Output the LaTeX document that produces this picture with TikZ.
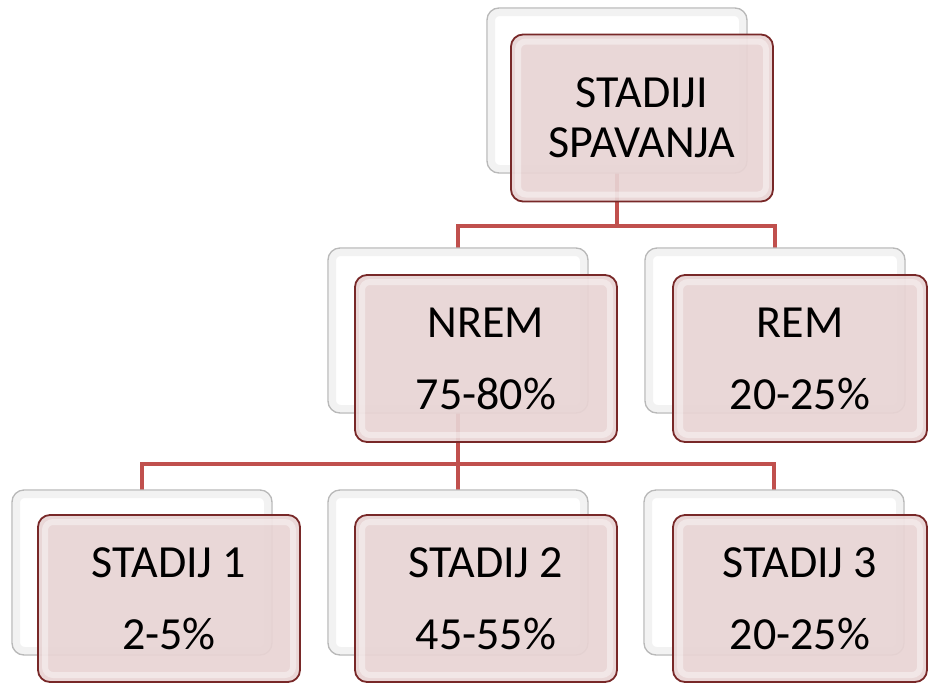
\documentclass[tikz,border=0pt]{standalone}
\usepackage{fontspec}
\setmainfont{Carlito}
\usetikzlibrary{calc}
\pgfdeclarelayer{background}
\pgfsetlayers{background,main}
\definecolor{linkred}{RGB}{192,80,77}
\definecolor{boxfill}{RGB}{232,212,212}
\definecolor{boxdraw}{RGB}{120,40,40}
\definecolor{backdraw}{RGB}{185,185,185}
\tikzset{
  backbox/.style={draw=backdraw, fill=white, line width=1.4pt, rounded corners=12pt,
    minimum width=260pt, minimum height=165pt, inner sep=0pt, outer sep=0pt,
    path picture={\draw[black!5, line width=7pt, rounded corners=8pt]
      ($(path picture bounding box.south west)+(4.5pt,4.5pt)$) rectangle
      ($(path picture bounding box.north east)+(-4.5pt,-4.5pt)$);}},
  frontbox/.style={draw=boxdraw, fill=boxfill, fill opacity=0.92, text opacity=1,
    line width=1.8pt, rounded corners=12pt,
    minimum width=262pt, minimum height=167pt, inner sep=0pt, outer sep=0pt, align=center,
    font=\fontsize{46}{50}\selectfont,
    path picture={\draw[white, opacity=0.4, line width=6pt, rounded corners=8pt]
      ($(path picture bounding box.south west)+(7pt,7pt)$) rectangle
      ($(path picture bounding box.north east)+(-7pt,-7pt)$);}},
  link/.style={draw=linkred, line width=4pt},
}
\begin{document}
\begin{tikzpicture}[x=1pt,y=-1pt]
\useasboundingbox (0,0) rectangle (928,686);
\node[backbox] (topB) at (617,90.5) {};
\node[frontbox] (topF) at (642,118) {STADIJI\\SPAVANJA};
\node[backbox] (nremB) at (458,330.5) {};
\node[frontbox] (nremF) at (486,358.5) {NREM\\[22pt]75-80\%};
\node[backbox] (remB) at (775,330.5) {};
\node[frontbox, minimum width=254pt] (remF) at (800,358.5) {REM\\[22pt]20-25\%};
\node[backbox] (s1B) at (142,572.5) {};
\node[frontbox] (s1F) at (169,598.5) {STADIJ 1\\[22pt]2-5\%};
\node[backbox] (s2B) at (458,572.5) {};
\node[frontbox] (s2F) at (486,598.5) {STADIJ 2\\[22pt]45-55\%};
\node[backbox] (s3B) at (774,572.5) {};
\node[frontbox, minimum width=254pt] (s3F) at (800,598.5) {STADIJ 3\\[22pt]20-25\%};
\coordinate (busA) at (0,226);
\coordinate (busB) at (0,464);
\begin{pgfonlayer}{background}
\draw[link] (topB.south) -- (topB.south |- busA) -| (nremB.north);
\draw[link] (topB.south |- busA) -| (remB.north);
\draw[link] (nremB.south) -- (nremB.south |- busB) -| (s1B.north);
\draw[link] (nremB.south |- busB) -- (s2B.north);
\draw[link] (nremB.south |- busB) -| (s3B.north);
\end{pgfonlayer}
\end{tikzpicture}
\end{document}
